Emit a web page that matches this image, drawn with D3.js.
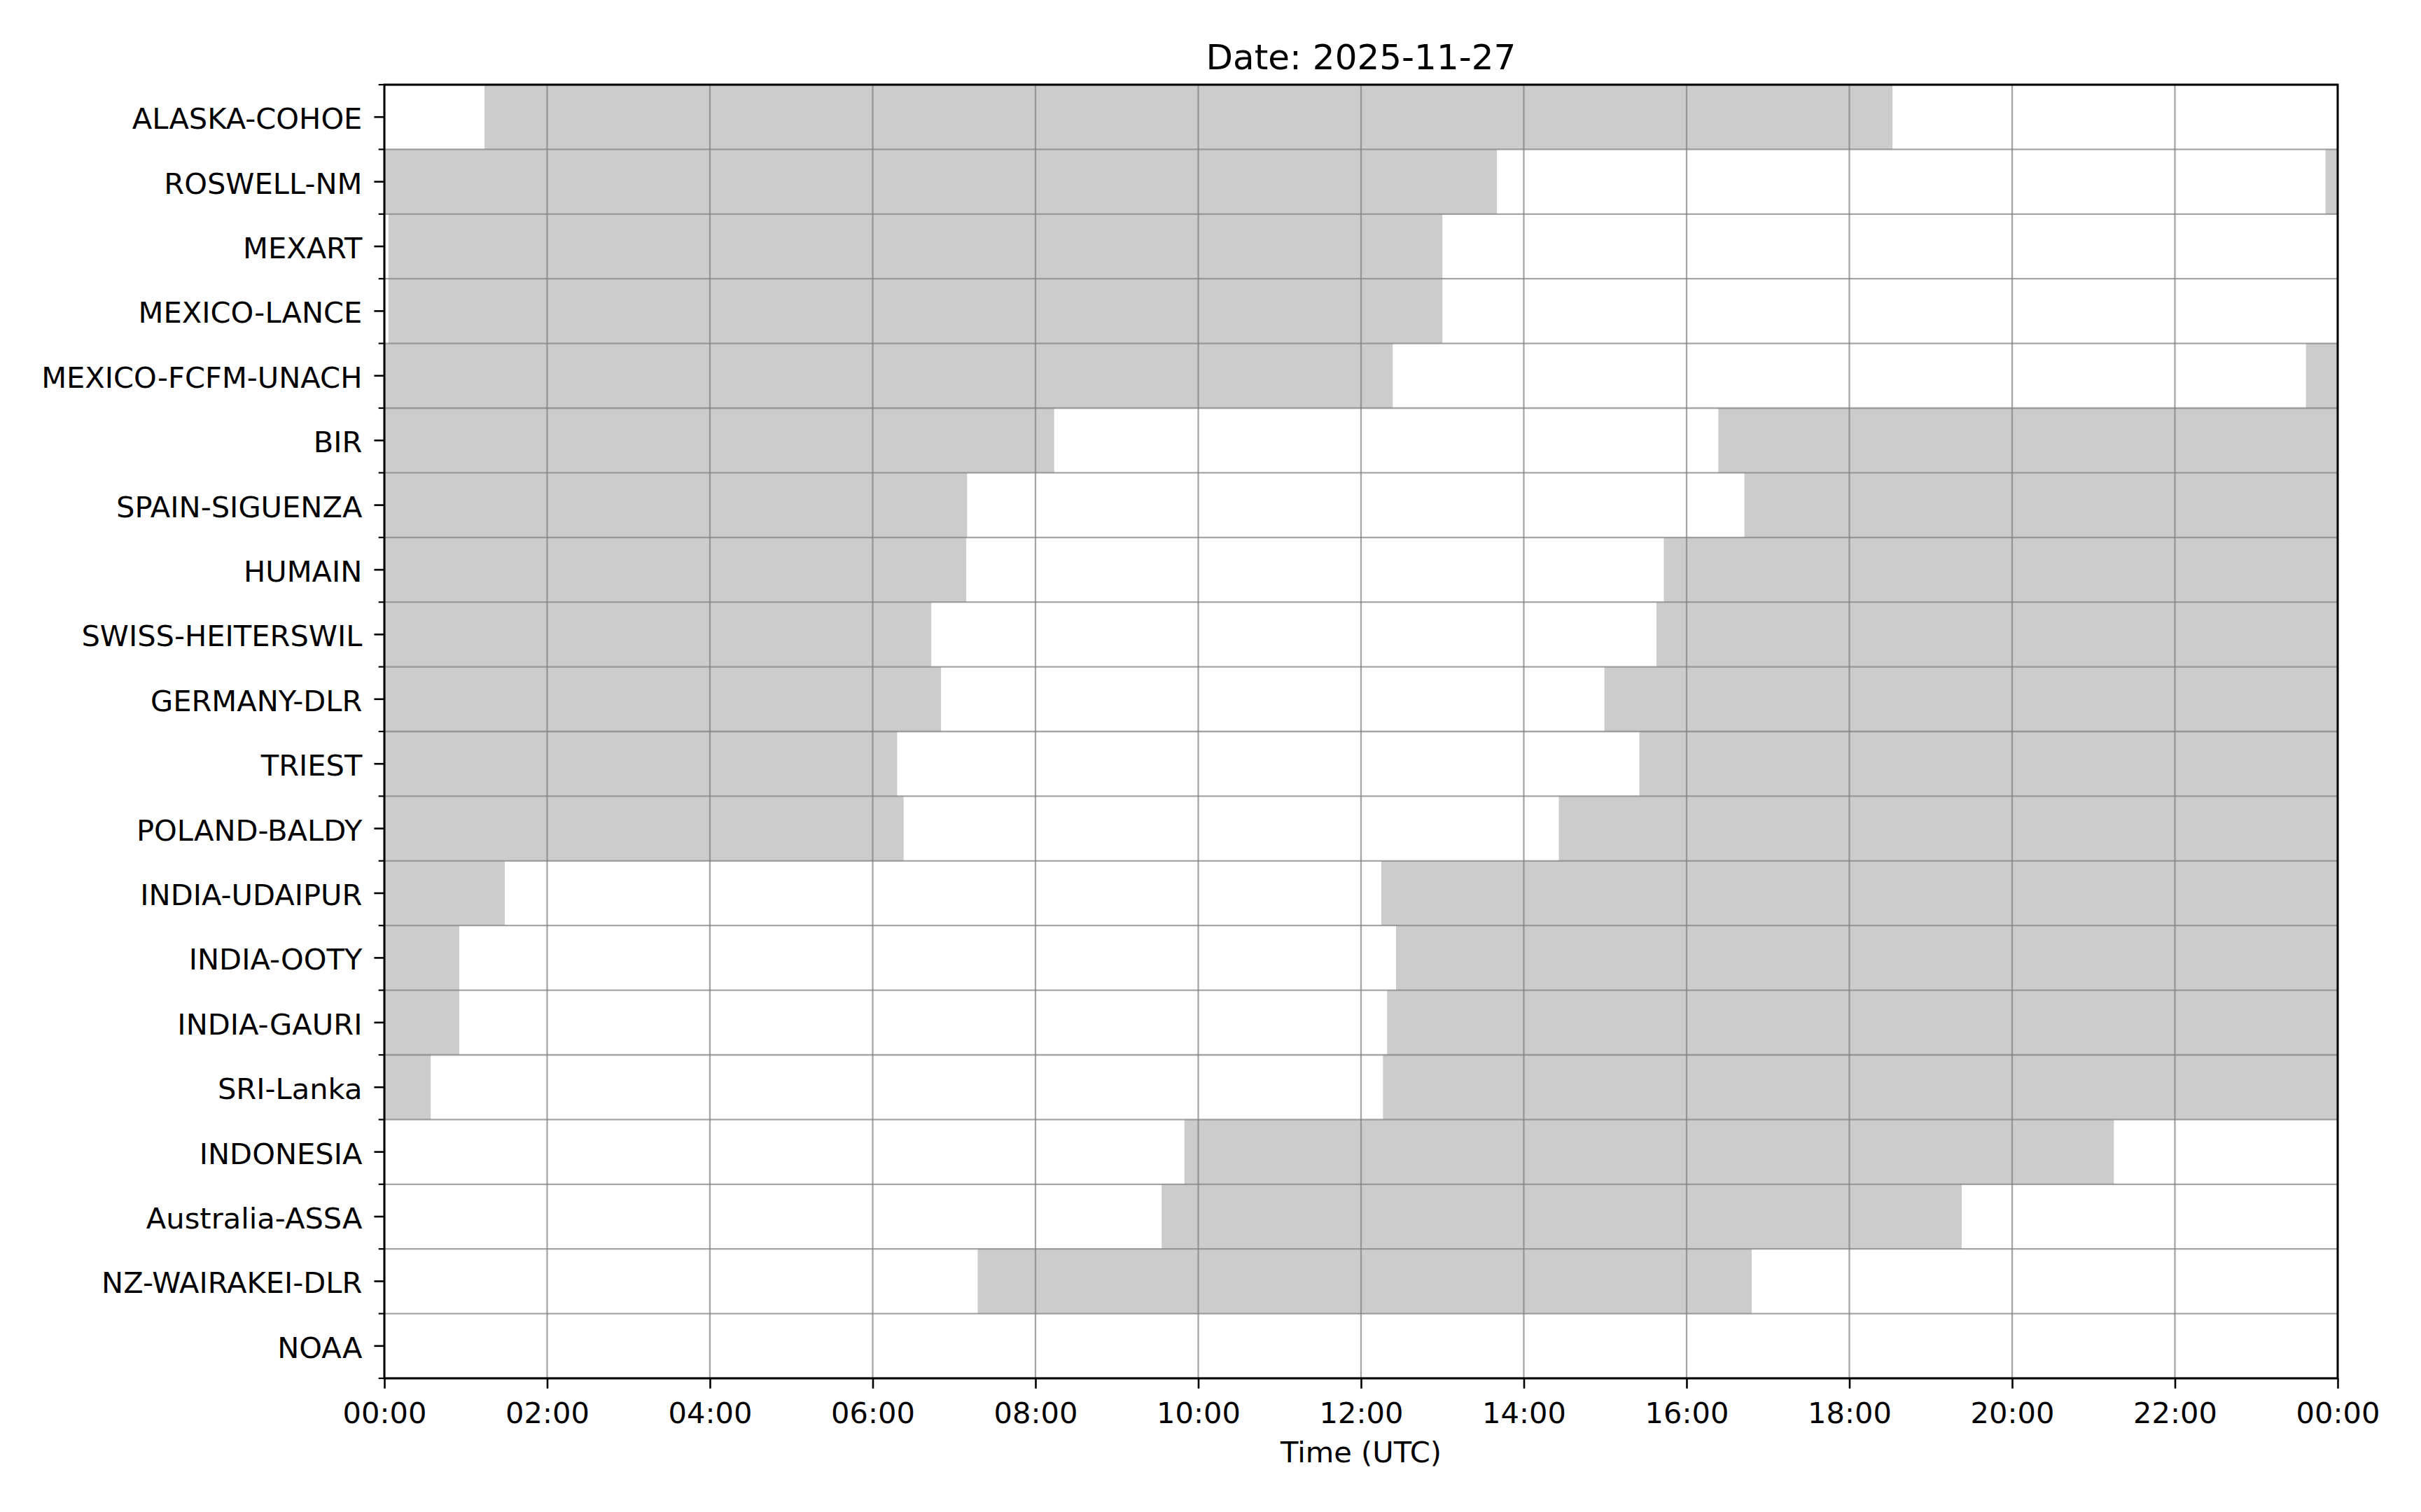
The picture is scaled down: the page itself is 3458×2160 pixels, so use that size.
<!DOCTYPE html>
<head>
<meta charset="utf-8">
<style>
body {
  margin: 0;
  background: #fff;
}
svg {
  display: block;
  font-family: "DejaVu Sans", sans-serif;
}
.grid line {
  stroke: #808080;
  stroke-opacity: 0.7;
  stroke-width: 2.3px;
}
.tick text {
  font-family: "DejaVu Sans", sans-serif;
  font-size: 41.6px;
  fill: #000;
}
</style>
</head>
<body>
<svg width="3458" height="2160"></svg>
<script src="https://d3js.org/d3.v7.min.js"></script>
<script>
// stations, top to bottom
var stations = ["ALASKA-COHOE", "ROSWELL-NM", "MEXART", "MEXICO-LANCE", "MEXICO-FCFM-UNACH",
  "BIR", "SPAIN-SIGUENZA", "HUMAIN", "SWISS-HEITERSWIL", "GERMANY-DLR", "TRIEST",
  "POLAND-BALDY", "INDIA-UDAIPUR", "INDIA-OOTY", "INDIA-GAURI", "SRI-Lanka",
  "INDONESIA", "Australia-ASSA", "NZ-WAIRAKEI-DLR", "NOAA"];

// shaded spans per station, in hours UTC [start, end]
var spans = [
  [[1.23, 18.53]],
  [[0, 13.67], [23.85, 24]],
  [[0.05, 13.0]],
  [[0.05, 13.0]],
  [[0, 12.39], [23.61, 24]],
  [[0, 8.23], [16.39, 24]],
  [[0, 7.16], [16.71, 24]],
  [[0, 7.15], [15.72, 24]],
  [[0, 6.72], [15.63, 24]],
  [[0, 6.84], [14.99, 24]],
  [[0, 6.30], [15.42, 24]],
  [[0, 6.38], [14.43, 24]],
  [[0, 1.48], [12.25, 24]],
  [[0, 0.92], [12.43, 24]],
  [[0, 0.92], [12.32, 24]],
  [[0, 0.57], [12.27, 24]],
  [[9.83, 21.25]],
  [[9.55, 19.38]],
  [[7.29, 16.80]],
  []
];

var hourTicks = [0, 2, 4, 6, 8, 10, 12, 14, 16, 18, 20, 22, 24];
var dateLabel = "2025-11-27";

var svg = d3.select("svg"),
    width = +svg.attr("width"),
    height = +svg.attr("height"),
    margin = {top: 121, right: 119, bottom: 191, left: 549},
    iw = width - margin.left - margin.right,
    ih = height - margin.top - margin.bottom,
    g = svg.append("g").attr("transform", "translate(" + margin.left + "," + margin.top + ")");

var day0 = new Date(dateLabel + "T00:00:00Z");
function toDate(h) { return new Date(day0.getTime() + h * 3600e3); }

var x = d3.scaleUtc()
    .domain([toDate(0), toDate(24)])
    .range([0, iw]);

var y = d3.scaleBand()
    .domain(stations)
    .range([0, ih])
    .padding(0);

// shaded bars
var rows = stations.map(function(s, i) { return {name: s, spans: spans[i]}; });
g.selectAll(".row")
  .data(rows)
  .enter().append("g")
    .attr("class", "row")
  .selectAll("rect")
  .data(function(d) { return d.spans.map(function(p) { return {name: d.name, a: p[0], b: p[1]}; }); })
  .enter().append("rect")
    .attr("x", function(d) { return x(toDate(d.a)); })
    .attr("y", function(d) { return y(d.name); })
    .attr("width", function(d) { return x(toDate(d.b)) - x(toDate(d.a)); })
    .attr("height", y.bandwidth())
    .attr("fill", "#cccccc");

// grid: vertical at hour ticks, horizontal at row boundaries
var bounds = d3.range(stations.length + 1).map(function(i) { return i * y.step(); });
var grid = g.append("g").attr("class", "grid");
grid.selectAll(".vg")
  .data(hourTicks)
  .enter().append("line")
    .attr("x1", function(h) { return x(toDate(h)); })
    .attr("x2", function(h) { return x(toDate(h)); })
    .attr("y1", 0).attr("y2", ih);
grid.selectAll(".hg")
  .data(bounds)
  .enter().append("line")
    .attr("x1", 0).attr("x2", iw)
    .attr("y1", function(d) { return d; })
    .attr("y2", function(d) { return d; });

// axes
var xAxis = d3.axisBottom(x)
    .tickValues(hourTicks.map(toDate))
    .tickFormat(d3.utcFormat("%H:%M"))
    .tickSize(14.6)
    .tickPadding(14.6);
var gx = g.append("g")
    .attr("transform", "translate(0," + ih + ")")
    .call(xAxis)
    .attr("font-family", null)
    .attr("font-size", null);
gx.select(".domain").remove();
gx.selectAll(".tick line").attr("stroke", "#000").attr("stroke-width", 2.6);
gx.selectAll(".tick text").attr("dy", "0.84em");

var yAxis = d3.axisLeft(y)
    .tickSize(14.6)
    .tickPadding(17);
var gy = g.append("g")
    .call(yAxis)
    .attr("font-family", null)
    .attr("font-size", null);
gy.select(".domain").remove();
gy.selectAll(".tick line").attr("stroke", "#000").attr("stroke-width", 2.6);
gy.selectAll(".tick text").attr("dy", "0.41em");

// minor ticks at row boundaries
g.append("g").selectAll("line")
  .data(bounds)
  .enter().append("line")
    .attr("x1", -8.3).attr("x2", 0)
    .attr("y1", function(d) { return d; })
    .attr("y2", function(d) { return d; })
    .attr("stroke", "#000")
    .attr("stroke-width", 2.2);

// frame
g.append("rect")
    .attr("width", iw)
    .attr("height", ih)
    .attr("fill", "none")
    .attr("stroke", "#000")
    .attr("stroke-width", 3);

// title and x label
svg.append("text")
    .attr("x", margin.left + iw / 2)
    .attr("y", 99)
    .attr("text-anchor", "middle")
    .style("font-size", "50px")
    .text("Date: " + dateLabel);

svg.append("text")
    .attr("x", margin.left + iw / 2)
    .attr("y", 2089)
    .attr("text-anchor", "middle")
    .style("font-size", "41.6px")
    .text("Time (UTC)");
</script>
</body>
